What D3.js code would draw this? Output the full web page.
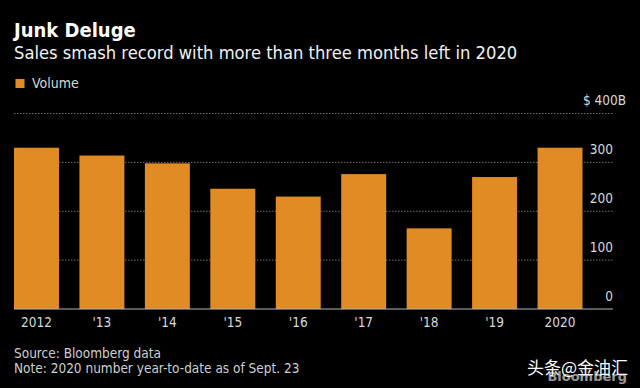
<!DOCTYPE html>
<html>
<head>
<meta charset="utf-8">
<script src="https://cdn.jsdelivr.net/npm/d3@7"></script>
<style>
  html, body { margin: 0; padding: 0; background: #000; }
  svg { display: block; }
  text { font-family: "DejaVu Sans Condensed", "DejaVu Sans", sans-serif; }
</style>
</head>
<body>
<svg id="chart" width="640" height="388"></svg>
<script>
const years = ['2012', "'13", "'14", "'15", "'16", "'17", "'18", "'19", '2020'];
const volume = [330, 314, 298, 246, 230, 276, 165, 270, 330];
const yTicks = [0, 100, 200, 300, 400];

const width = 640;
const height = 388;
const margin = { top: 113.5, right: 27, bottom: 79, left: 14 };
const orange = '#e08b24';

const svg = d3.select('#chart');

svg.append('rect')
  .attr('width', width)
  .attr('height', height)
  .attr('fill', '#000');

const x = d3.scaleBand()
  .domain(years)
  .range([margin.left, 582.5])
  .paddingInner(0.313)
  .paddingOuter(0);

const y = d3.scaleLinear()
  .domain([0, 400])
  .range([height - margin.bottom, margin.top]);

const plotRight = width - margin.right;

// titles
svg.append('text')
  .attr('x', 14)
  .attr('y', 37)
  .attr('fill', '#fff')
  .attr('font-size', 20)
  .attr('font-weight', 'bold')
  .text('Junk Deluge');

svg.append('text')
  .attr('x', 14)
  .attr('y', 59)
  .attr('fill', '#f2f2f2')
  .attr('font-size', 18.2)
  .text('Sales smash record with more than three months left in 2020');

// legend
svg.append('rect')
  .attr('x', 15.5)
  .attr('y', 79)
  .attr('width', 9)
  .attr('height', 9)
  .attr('fill', orange);

svg.append('text')
  .attr('x', 32)
  .attr('y', 88)
  .attr('fill', '#d8d8d8')
  .attr('font-size', 14)
  .text('Volume');

// gridlines
svg.append('g')
  .selectAll('line')
  .data(yTicks.filter(d => d > 0))
  .enter()
  .append('line')
  .attr('x1', margin.left)
  .attr('x2', plotRight)
  .attr('y1', d => y(d))
  .attr('y2', d => y(d))
  .attr('stroke', '#6e6e6e')
  .attr('stroke-width', 1)
  .attr('stroke-dasharray', '1.5,1.5');

// bars
svg.append('g')
  .selectAll('rect')
  .data(volume)
  .enter()
  .append('rect')
  .attr('x', (d, i) => x(years[i]))
  .attr('y', d => y(d))
  .attr('width', x.bandwidth())
  .attr('height', d => y(0) - y(d))
  .attr('fill', orange);

// baseline
svg.append('line')
  .attr('x1', margin.left)
  .attr('x2', plotRight)
  .attr('y1', y(0))
  .attr('y2', y(0))
  .attr('stroke', '#b5b5b5')
  .attr('stroke-width', 1);

// y labels on the right, sitting above each gridline
svg.append('g')
  .selectAll('text')
  .data(yTicks)
  .enter()
  .append('text')
  .attr('x', d => (d === 400 ? 626 : plotRight))
  .attr('y', d => y(d) - 8.5)
  .attr('text-anchor', 'end')
  .attr('fill', '#d8d8d8')
  .attr('font-size', 13.5)
  .text(d => (d === 400 ? '$ 400B' : d));

// x labels
const xAxis = svg.append('g')
  .attr('transform', `translate(0, ${y(0)})`)
  .call(d3.axisBottom(x).tickSize(0).tickPadding(8));
xAxis.select('.domain').remove();
xAxis.selectAll('text')
  .attr('fill', '#d8d8d8')
  .attr('font-size', 13.5)
  .style('font-family', '"DejaVu Sans Condensed", "DejaVu Sans", sans-serif');

// footer
svg.append('text')
  .attr('x', 14)
  .attr('y', 358)
  .attr('fill', '#cfcfcf')
  .attr('font-size', 13.5)
  .text('Source: Bloomberg data');

svg.append('text')
  .attr('x', 14)
  .attr('y', 373)
  .attr('fill', '#cfcfcf')
  .attr('font-size', 13.5)
  .text('Note: 2020 number year-to-date as of Sept. 23');

// watermark
svg.append('text')
  .attr('x', 627)
  .attr('y', 381)
  .attr('text-anchor', 'end')
  .attr('fill', '#9a9a9a')
  .attr('font-size', 13)
  .attr('font-weight', 'bold')
  .style('font-family', '"DejaVu Sans", sans-serif')
  .text('Bloomberg');

svg.append('text')
  .attr('x', 628)
  .attr('y', 374)
  .attr('text-anchor', 'end')
  .attr('fill', '#fff')
  .attr('font-size', 17)
  .style('font-family', '"Noto Sans CJK SC", sans-serif')
  .text('头条@金油汇');
</script>
</body>
</html>
